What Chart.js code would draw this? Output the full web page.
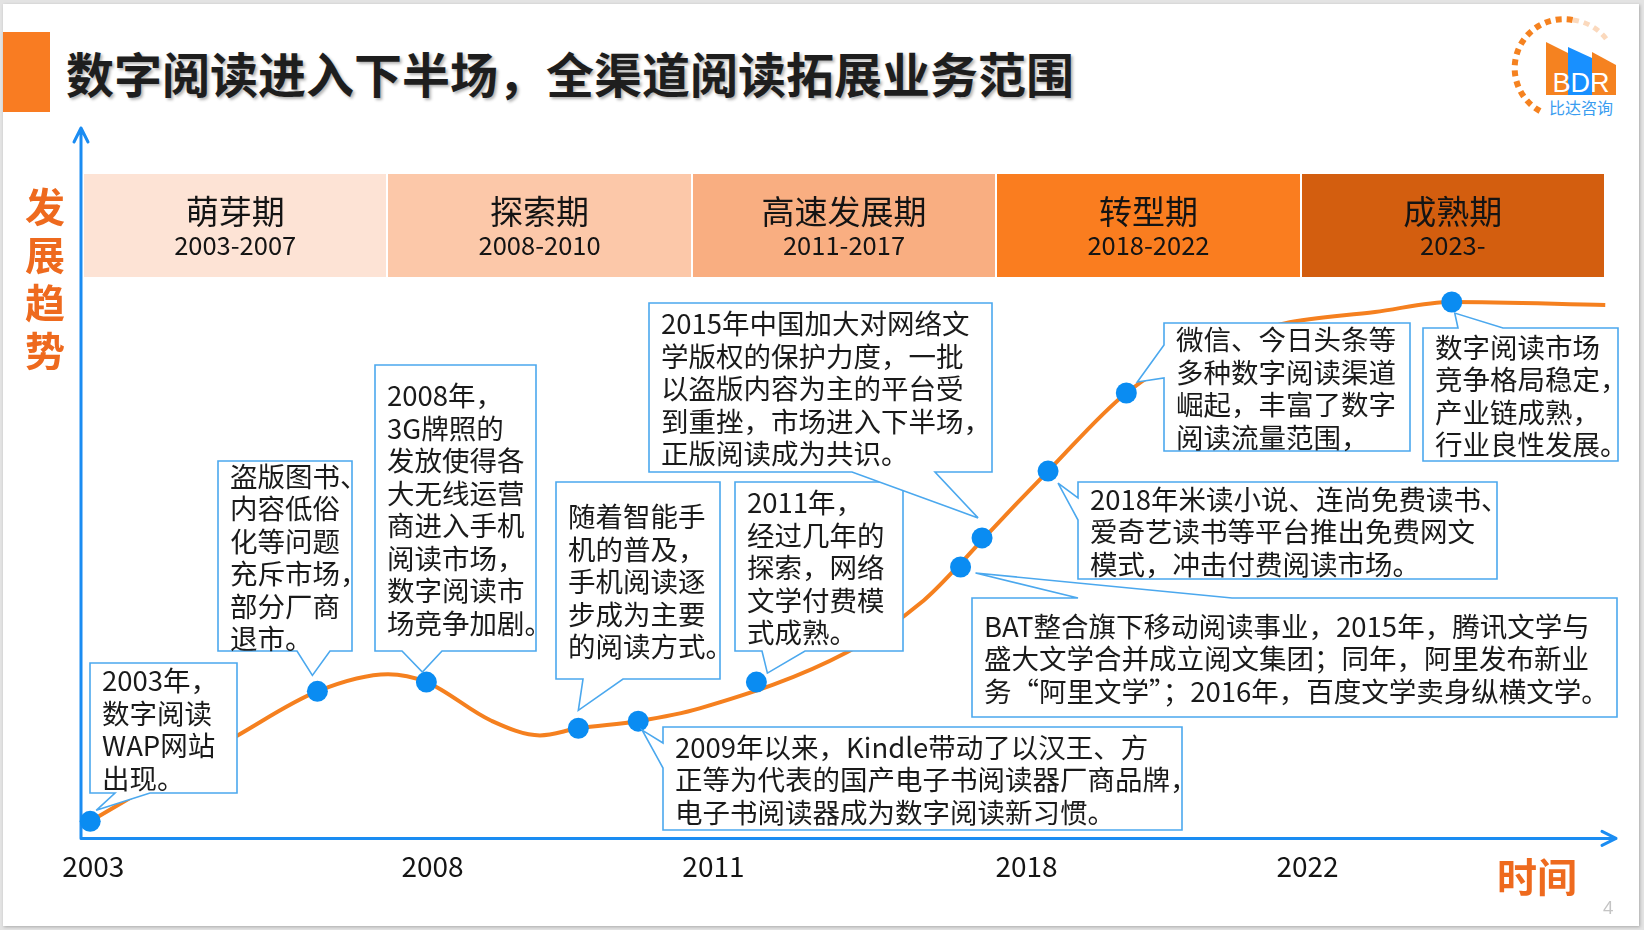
<!DOCTYPE html>
<html>
<head>
<meta charset="utf-8">
<title>数字阅读进入下半场</title>
<script src="https://cdn.jsdelivr.net/npm/chart.js@4.4.1/dist/chart.umd.min.js"></script>
<style>
html, body { margin: 0; padding: 0; }
body {
	width: 1644px; height: 930px; position: relative; overflow: hidden;
	background: #e3e3e3;
	font-family: "Noto Sans CJK SC", "Noto Sans", sans-serif;
}
.abs { position: absolute; }
#slide { left: 3px; top: 4px; width: 1636px; height: 922px; background: #fff; box-shadow: 1px 1px 3px rgba(0,0,0,.25); }
#bar { left: 3px; top: 32px; width: 47px; height: 80px; background: #f97c22; }
#title { left: 66px; top: 42px; font-size: 48px; font-weight: 700; line-height: 60px; color: #1e1e1e; white-space: nowrap; text-shadow: 2px 2px 3px rgba(0,0,0,.3); }
#chart { position: absolute; left: 0; top: 0; }
#phases { left: 84px; top: 174px; width: 1520px; height: 103px; display: flex; gap: 2px; }
.ph { flex: 1; display: flex; flex-direction: column; align-items: center; justify-content: center; color: #141414; }
.ph .n { font-size: 33px; line-height: 37px; }
.ph .y { font-size: 25.5px; line-height: 30px; }
#yname { left: 24px; top: 181px; width: 42px; font-size: 40px; font-weight: 700; line-height: 48px; color: #ee6a1e; text-align: center; }
#xname { left: 1497px; top: 851px; font-size: 40px; font-weight: 700; line-height: 48px; color: #ee6a1e; }
#page { left: 1603px; top: 895px; font-size: 18px; color: #c4c4c4; font-family: "Noto Sans", sans-serif; }
#notes { position: absolute; left: 0; top: 0; }
.note { position: absolute; display: flex; flex-direction: column; justify-content: center; padding-left: 12px; box-sizing: border-box; font-size: 27.5px; line-height: 32.5px; color: #1a1a1a; white-space: nowrap; }
</style>
</head>
<body>
<div id="slide" class="abs"></div>
<div id="bar" class="abs"></div>
<div id="title" class="abs">数字阅读进入下半场，全渠道阅读拓展业务范围</div>

<svg class="abs" style="left:0;top:0" width="1644" height="130">
	<path d="M1540,111 A49,49 0 0 1 1573,20" fill="none" stroke="#f58220" stroke-width="6" stroke-dasharray="6 5"/>
	<path d="M1573,20 A49,49 0 0 1 1607,40" fill="none" stroke="#fbd9bd" stroke-width="5" stroke-dasharray="6 5"/>
	<polygon points="1546,42 1568,53 1568,95 1546,95" fill="#f58220"/>
	<polygon points="1568,47 1592,58 1592,95 1568,95" fill="#1890ff"/>
	<polygon points="1592,52 1616,65 1616,95 1592,95" fill="#f58220"/>
	<text x="1581" y="92" text-anchor="middle" font-family="Liberation Sans, Arial, sans-serif" font-size="27" fill="#fff">BDR</text>
	<text x="1581" y="114" text-anchor="middle" font-family="Noto Sans CJK SC, sans-serif" font-size="16" fill="#3a9df0">比达咨询</text>
</svg>

<canvas id="chart" width="1644" height="930"></canvas>
<svg id="notes" width="1644" height="930"></svg>

<div id="phases" class="abs"></div>
<div id="yname" class="abs">发<br>展<br>趋<br>势</div>
<div id="xname" class="abs">时间</div>
<div id="page" class="abs">4</div>

<script>
// phases along the top band
var phaseNames = ['萌芽期', '探索期', '高速发展期', '转型期', '成熟期'];
var phaseYears = ['2003-2007', '2008-2010', '2011-2017', '2018-2022', '2023-'];
var phaseColors = ['#fde3d5', '#fcc8a9', '#f9ae81', '#fa7d1f', '#d35e0f'];

// x axis: position on the timeline (0-100) and its year labels
var tickLabels = ['2003', '2008', '2011', '2018', '2022'];
var tickPos = [0.8, 22.9, 41.2, 61.6, 79.9];

// trend curve (timeline position, development level)
var curveX = [0.6, 10.2, 15.4, 20.0, 22.5, 26.7, 29.9, 32.4, 36.3, 40.3, 49.9, 54.9, 57.3, 58.7, 63.0, 68.1, 72.9, 78.4, 84.3, 89.3, 99.3];
var curveY = [2.4, 14.5, 20.7, 23.1, 22.0, 16.6, 14.5, 15.5, 16.5, 18.3, 26.2, 33.5, 38.7, 42.0, 51.7, 62.7, 68.9, 72.5, 74.1, 75.5, 75.1];

// milestone dots
var markerX = [0.6, 15.4, 22.5, 32.4, 36.3, 44.0, 57.3, 58.7, 63.0, 68.1, 89.3];
var markerY = [2.4, 20.7, 22.0, 15.5, 16.5, 22.0, 38.2, 42.3, 51.7, 62.7, 75.5];

// callouts: text lines, the dot they point to, box and pointer layout
var notes = [
	{ lines: ['2003年，', '数字阅读', 'WAP网站', '出现。'], marker: 0, box: [90, 663, 237, 793], side: 'bottom', base: [115, 150], tip: [6, -11] },
	{ lines: ['盗版图书、', '内容低俗', '化等问题', '充斥市场，', '部分厂商', '退市。'], marker: 1, box: [218, 461, 352, 651], side: 'bottom', base: [297, 330], tip: [-5, -16] },
	{ lines: ['2008年，', '3G牌照的', '发放使得各', '大无线运营', '商进入手机', '阅读市场，', '数字阅读市', '场竞争加剧。'], marker: 2, box: [375, 365, 536, 651], side: 'bottom', base: [402, 442], tip: [-4, -10] },
	{ lines: ['随着智能手', '机的普及，', '手机阅读逐', '步成为主要', '的阅读方式。'], marker: 3, box: [556, 482, 720, 679], side: 'bottom', base: [583, 623], tip: [0, -18] },
	{ lines: ['2011年，', '经过几年的', '探索，网络', '文学付费模', '式成熟。'], marker: 5, box: [735, 482, 903, 651], side: 'bottom', base: [762, 805], tip: [11, -9] },
	{ lines: ['2015年中国加大对网络文', '学版权的保护力度，一批', '以盗版内容为主的平台受', '到重挫，市场进入下半场，', '正版阅读成为共识。'], marker: 7, box: [649, 303, 992, 472], side: 'bottom', base: [852, 935], tip: [-4, -20] },
	{ lines: ['2009年以来，Kindle带动了以汉王、方', '正等为代表的国产电子书阅读器厂商品牌，', '电子书阅读器成为数字阅读新习惯。'], marker: 4, box: [663, 727, 1182, 830], side: 'left', base: [743, 768], tip: [4, 9] },
	{ lines: ['2018年米读小说、连尚免费读书、', '爱奇艺读书等平台推出免费网文', '模式，冲击付费阅读市场。'], marker: 8, box: [1078, 482, 1497, 579], side: 'left', base: [498, 520], tip: [10, 12] },
	{ lines: ['BAT整合旗下移动阅读事业，2015年，腾讯文学与', '盛大文学合并成立阅文集团；同年，阿里发布新业', '务“阿里文学”；2016年，百度文学卖身纵横文学。'], marker: 6, box: [972, 598, 1617, 717], side: 'top', base: [1078, 1232], tip: [15, 6] },
	{ lines: ['微信、今日头条等', '多种数字阅读渠道', '崛起，丰富了数字', '阅读流量范围，'], marker: 9, box: [1164, 323, 1410, 451], side: 'left', base: [345, 378], tip: [11, -11] },
	{ lines: ['数字阅读市场', '竞争格局稳定，', '产业链成熟，', '行业良性发展。'], marker: 10, box: [1423, 328, 1618, 461], side: 'top', base: [1458, 1503], tip: [3, 11] }
];

var phaseBox = document.getElementById('phases');
phaseNames.forEach(function(name, i) {
	var d = document.createElement('div');
	d.className = 'ph';
	d.style.background = phaseColors[i];
	d.innerHTML = '<div class="n">' + name + '</div><div class="y">' + phaseYears[i] + '</div>';
	phaseBox.appendChild(d);
});

// blue axes with open arrow heads, drawn under the curve
var axisArrows = {
	id: 'axisArrows',
	beforeDatasetsDraw: function(chart) {
		var a = chart.chartArea, c = chart.ctx;
		c.save();
		c.strokeStyle = '#1a8cf2';
		c.lineWidth = 3;
		c.lineCap = 'round';
		c.lineJoin = 'round';
		c.beginPath();
		c.moveTo(a.left, a.top);
		c.lineTo(a.left, a.bottom);
		c.lineTo(a.right, a.bottom);
		c.moveTo(a.left - 7, a.top + 14);
		c.lineTo(a.left, a.top);
		c.lineTo(a.left + 7, a.top + 14);
		c.moveTo(a.right - 14, a.bottom - 7);
		c.lineTo(a.right, a.bottom);
		c.lineTo(a.right - 14, a.bottom + 7);
		c.stroke();
		c.restore();
	}
};

var trendChart = new Chart(document.getElementById('chart'), {
	type: 'line',
	data: {
		datasets: [{
			label: '发展趋势',
			data: curveX.map(function(x, i) { return { x: x, y: curveY[i] }; }),
			borderColor: '#f5801f',
			borderWidth: 4,
			pointRadius: 0,
			fill: false,
			cubicInterpolationMode: 'monotone',
			clip: false,
			order: 2
		}, {
			label: '节点',
			data: markerX.map(function(x, i) { return { x: x, y: markerY[i] }; }),
			showLine: false,
			pointRadius: 10.5,
			pointBackgroundColor: '#0a8cf2',
			pointBorderWidth: 0,
			clip: false,
			order: 1
		}]
	},
	options: {
		responsive: false,
		animation: false,
		devicePixelRatio: 1,
		layout: { padding: { left: 81, right: 28, top: 128, bottom: 36 } },
		plugins: { legend: { display: false }, tooltip: { enabled: false } },
		scales: {
			x: {
				type: 'linear',
				min: 0,
				max: 100,
				grid: { display: false, drawTicks: false },
				border: { display: false },
				afterBuildTicks: function(axis) {
					axis.ticks = tickPos.map(function(v) { return { value: v }; });
				},
				ticks: {
					autoSkip: false,
					maxRotation: 0,
					padding: 11,
					color: '#141414',
					font: { family: '"Noto Sans CJK SC", "Noto Sans", sans-serif', size: 28 },
					callback: function(v, i) { return tickLabels[i]; }
				}
			},
			y: { type: 'linear', min: 0, max: 100, display: false }
		}
	},
	plugins: [axisArrows]
});

// callout boxes with pointers aimed at the dots
var svgNS = 'http://www.w3.org/2000/svg';
var noteLayer = document.getElementById('notes');
var dots = trendChart.getDatasetMeta(1).data;

function notePath(n, tx, ty) {
	var x1 = n.box[0], y1 = n.box[1], x2 = n.box[2], y2 = n.box[3], a = n.base[0], b = n.base[1], p;
	if (n.side === 'bottom') p = [[x1, y1], [x2, y1], [x2, y2], [b, y2], [tx, ty], [a, y2], [x1, y2]];
	else if (n.side === 'top') p = [[x1, y1], [a, y1], [tx, ty], [b, y1], [x2, y1], [x2, y2], [x1, y2]];
	else p = [[x1, y1], [x2, y1], [x2, y2], [x1, y2], [x1, b], [tx, ty], [x1, a]];
	return 'M' + p.map(function(q) { return q[0] + ',' + q[1]; }).join('L') + 'Z';
}

notes.forEach(function(n) {
	var dot = dots[n.marker];
	var path = document.createElementNS(svgNS, 'path');
	path.setAttribute('d', notePath(n, dot.x + n.tip[0], dot.y + n.tip[1]));
	path.setAttribute('fill', '#fff');
	path.setAttribute('stroke', '#4ba8ee');
	path.setAttribute('stroke-width', '1.6');
	noteLayer.appendChild(path);
});

notes.forEach(function(n) {
	var d = document.createElement('div');
	d.className = 'note';
	d.style.left = n.box[0] + 'px';
	d.style.top = n.box[1] + 'px';
	d.style.width = (n.box[2] - n.box[0]) + 'px';
	d.style.height = (n.box[3] - n.box[1]) + 'px';
	d.innerHTML = n.lines.map(function(t) { return '<div>' + t + '</div>'; }).join('');
	document.body.appendChild(d);
});
</script>
</body>
</html>
